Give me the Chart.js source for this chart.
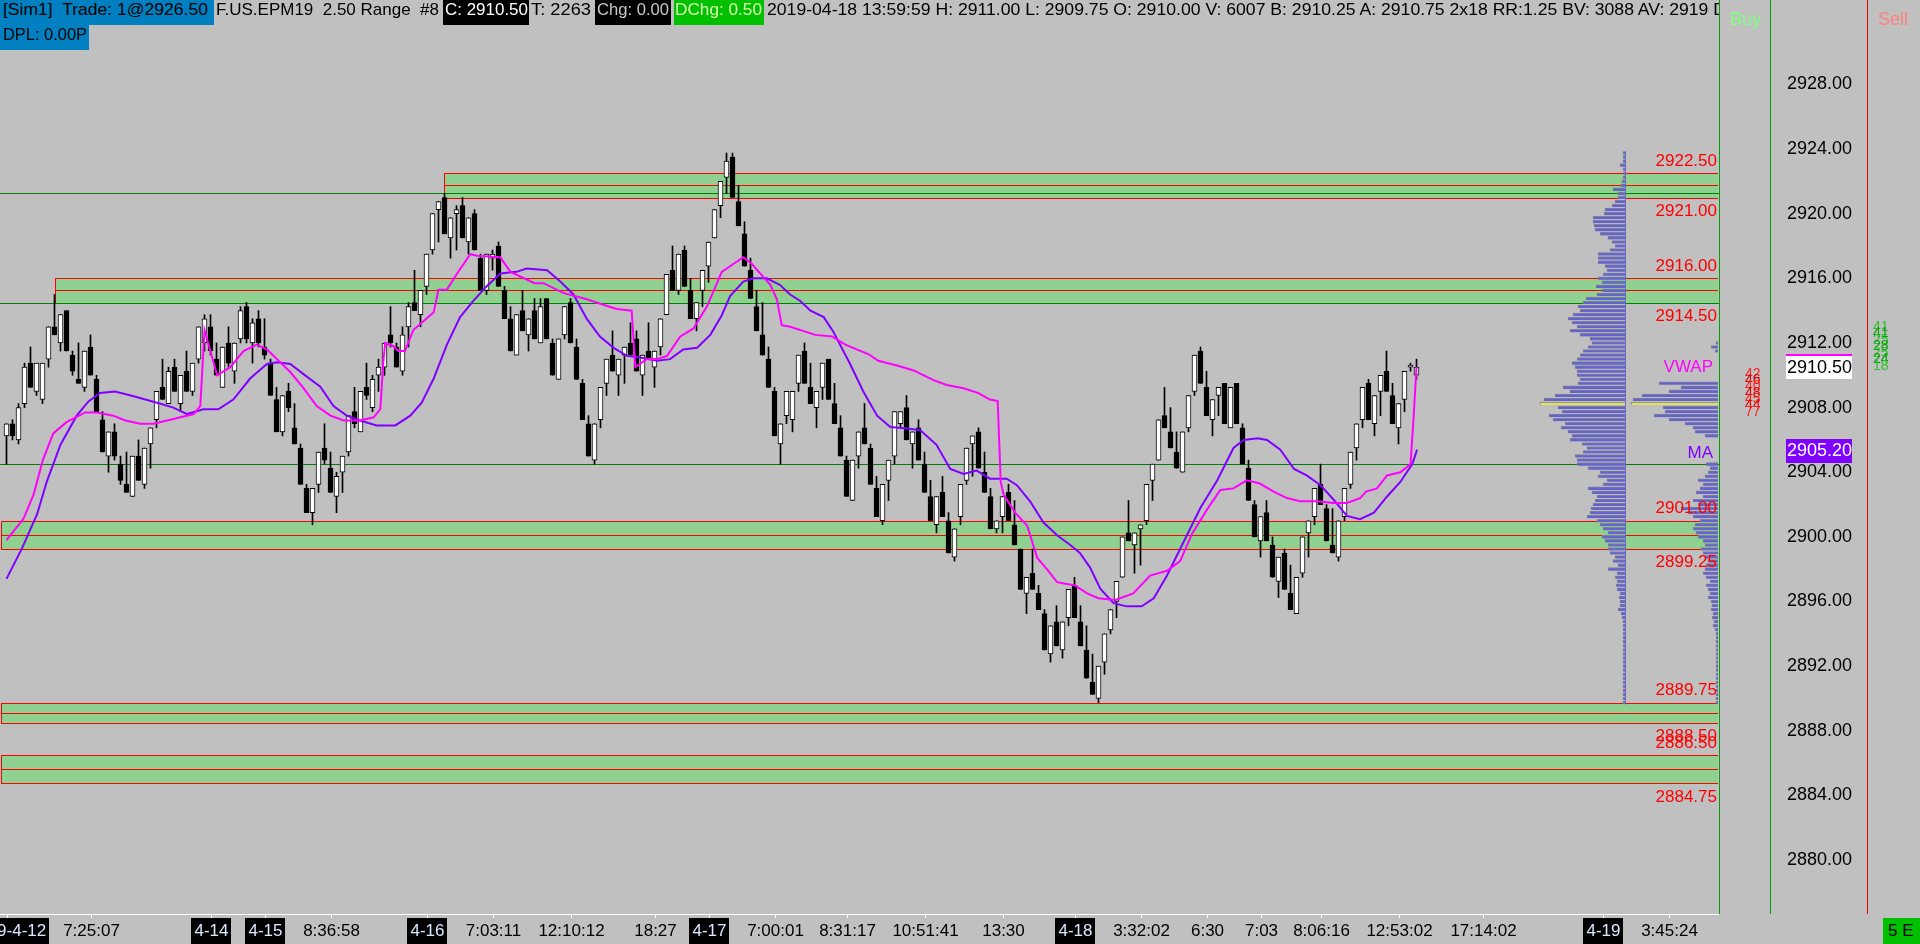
<!DOCTYPE html>
<html>
<head>
<meta charset="utf-8">
<title>F.US.EPM19 2.50 Range</title>
<script src="https://cdn.jsdelivr.net/npm/chart.js"></script>
<style>
html, body { margin: 0; padding: 0; background: #c0c0c0; overflow: hidden; }
#wrap { position: relative; width: 1920px; height: 944px; }
#chart { position: absolute; left: 0; top: 0; }
.hd { position: absolute; top: 0; height: 25px; line-height: 25px; font: 17px "Liberation Sans", Arial, sans-serif; white-space: nowrap; color: #000; overflow: hidden; }
.hd span { display: inline-block; transform-origin: 0 50%; }
</style>
</head>
<body>
<div id="wrap">
<canvas id="chart" width="1920" height="944"></canvas>
<div class="hd" style="left:0;width:214px;background:#0080c0"><span data-w="205" style="margin-left:3px">[Sim1]&nbsp; Trade: 1@2926.50</span></div>
<div class="hd" style="left:216px;width:226px"><span data-w="223">F.US.EPM19&nbsp; 2.50 Range&nbsp; #8</span></div>
<div class="hd" style="left:443px;width:86px;background:#000;color:#fff"><span data-w="83" style="margin-left:2px">C: 2910.50</span></div>
<div class="hd" style="left:531px;width:62px"><span data-w="60">T: 2263</span></div>
<div class="hd" style="left:595px;width:76px;background:#000;color:#c8c8c8"><span data-w="72" style="margin-left:2px">Chg: 0.00</span></div>
<div class="hd" style="left:674px;width:90px;background:#00c000;color:#d8ffb0"><span data-w="87" style="margin-left:1px">DChg: 0.50</span></div>
<div class="hd" style="left:767px;width:952px"><span data-w="959">2019-04-18 13:59:59 H: 2911.00 L: 2909.75 O: 2910.00 V: 6007 B: 2910.25 A: 2910.75 2x18 RR:1.25 BV: 3088 AV: 2919 D</span></div>
<div class="hd" style="left:0;top:25px;width:89px;background:#0080c0"><span data-w="84" style="margin-left:3px">DPL: 0.00P</span></div>
<div class="hd" style="left:1730px;top:9px;font-size:18px;color:#80ff80">Buy</div>
<div class="hd" style="left:1878px;top:9px;font-size:18px;color:#ff8080">Sell</div>
<div class="hd" style="left:1883px;top:918px;width:37px;height:26px;line-height:26px;background:#00c000;padding-left:5px;box-sizing:border-box">5 E</div>
</div>
<script>
// 2.50 range bars, oldest first
const open = [
  2906.25, 2907, 2906, 2908.25, 2910.75, 2909, 2908.5, 2911, 2913, 2912,
  2914, 2911.25, 2909.75, 2909.25, 2911.75, 2909.75, 2907.25, 2905, 2906.5, 2904.5,
  2903.25, 2902.5, 2905, 2903.25, 2905.75, 2907.25, 2909.25, 2908.25, 2910.5, 2908.25,
  2910.25, 2909, 2911, 2912, 2913, 2911, 2909.25, 2912, 2910.25, 2912.25,
  2914.25, 2912, 2913.5, 2911.75, 2910.75, 2908.5, 2906.5, 2909, 2906.75, 2905.5,
  2903, 2901.5, 2903.25, 2905.5, 2904.25, 2902.5, 2904, 2905.25, 2907.75, 2906.5,
  2909.25, 2908, 2910, 2910.5, 2912.5, 2911.75, 2910.25, 2913, 2914.5, 2913.75,
  2915.5, 2917.75, 2920.25, 2921, 2918.5, 2920, 2920.5, 2918.25, 2920, 2917.25,
  2915.25, 2917.25, 2918, 2915.25, 2913.5, 2911.25, 2914, 2912.5, 2914, 2912,
  2914.75, 2912, 2909.75, 2912.5, 2914.5, 2911.75, 2909.5, 2907, 2904.75, 2907.25,
  2909.5, 2911.25, 2910, 2911.25, 2912, 2912.25, 2910, 2911.5, 2910.5, 2911.75,
  2913.75, 2916.5, 2915.25, 2917.75, 2915.25, 2913.5, 2915.25, 2916.75, 2918.5, 2920.5,
  2922.25, 2923.5, 2920.75, 2918.75, 2916.5, 2914.25, 2912.5, 2911, 2909, 2905.75,
  2907.5, 2907.25, 2909.5, 2911.5, 2909.25, 2908, 2909.25, 2911, 2908.25, 2906.75,
  2904.75, 2902.25, 2905, 2906.75, 2905.5, 2903, 2901, 2903.5, 2905, 2907,
  2908, 2905.75, 2906.75, 2904.5, 2902.5, 2900.75, 2902.75, 2901, 2898.75, 2901.25,
  2903.5, 2905.75, 2906.5, 2904, 2902.5, 2900.5, 2901.25, 2902.75, 2900.75, 2899.25,
  2896.5, 2897.75, 2896.5, 2895.25, 2892.75, 2894.75, 2893, 2895, 2897, 2894.75,
  2893, 2891, 2890, 2892.25, 2894.25, 2896, 2897.5, 2900.25, 2899.5, 2900.5,
  2901, 2903.5, 2904.75, 2907.5, 2906.5, 2905.25, 2904, 2906.75, 2909, 2911.5,
  2909.25, 2907.25, 2908.75, 2909.5, 2906.75, 2909.5, 2906.75, 2904.25, 2902, 2899.75,
  2901.5, 2899.5, 2897.25, 2899, 2896.5, 2895.25, 2897.75, 2900.25, 2901.25, 2903.25,
  2901.75, 2899.5, 2898.75, 2901.25, 2903.25, 2905.5, 2907.25, 2909.5, 2907, 2909,
  2910.25, 2908.75, 2906.75, 2908.5, 2910.5, 2910
];
const high = [
  2907, 2907.25, 2908.25, 2910.75, 2911.75, 2910.75, 2910.75, 2913, 2915, 2913.75,
  2914, 2911.5, 2912, 2911.5, 2912.5, 2910, 2907.75, 2906.5, 2907, 2905,
  2905.25, 2905, 2906, 2905.5, 2906.75, 2909, 2911, 2910.5, 2911, 2910,
  2911.5, 2910.75, 2913, 2913.75, 2913.75, 2912, 2911.75, 2913, 2912, 2914.25,
  2914.5, 2913.5, 2914, 2913.5, 2911, 2909.25, 2908.75, 2909.5, 2908.25, 2905.75,
  2903.25, 2903, 2905.25, 2907, 2905.25, 2904, 2905, 2907.5, 2909.25, 2909,
  2910.75, 2910, 2911, 2912, 2914.25, 2912, 2913, 2914.5, 2916.5, 2915.25,
  2917.5, 2920, 2920.75, 2921.25, 2919.75, 2920.5, 2921, 2919.75, 2920.25, 2917.5,
  2917.5, 2917.75, 2918.25, 2915.5, 2914.25, 2913.75, 2915.25, 2913.5, 2914.75, 2914.75,
  2914.75, 2912.25, 2912.25, 2914.25, 2914.75, 2912.25, 2909.75, 2907.5, 2907, 2909.25,
  2911, 2912.75, 2911, 2911.75, 2913.25, 2912.75, 2911.25, 2913.25, 2911.5, 2913.5,
  2916.25, 2918, 2917.5, 2918, 2916, 2914.5, 2916.5, 2918.25, 2920.25, 2922,
  2923.75, 2923.75, 2921.75, 2919.5, 2917.25, 2915.25, 2914.5, 2911.75, 2909.25, 2907,
  2909, 2909, 2911.25, 2912, 2910.75, 2909, 2910.75, 2911, 2909.5, 2907.5,
  2905, 2904.75, 2906.5, 2908.25, 2905.75, 2903.75, 2903.25, 2904.75, 2907.75, 2907.75,
  2908.75, 2906.5, 2907.25, 2905.25, 2903.5, 2902.5, 2903.75, 2901.5, 2900.5, 2903.25,
  2905.5, 2906.25, 2906.75, 2905.25, 2903, 2901, 2902.5, 2903.25, 2902.25, 2899.25,
  2897.5, 2899.25, 2897, 2895.5, 2894.5, 2895.75, 2894.75, 2896.75, 2897.5, 2895.75,
  2894.5, 2892.75, 2892, 2894, 2895.5, 2897.25, 2900, 2902.25, 2900.25, 2900.75,
  2903.25, 2904.5, 2907.25, 2909.25, 2908, 2906.5, 2906.5, 2908.75, 2911.25, 2911.75,
  2910.25, 2908.5, 2909.25, 2909.5, 2909.25, 2909.5, 2907, 2904.75, 2902.25, 2901.25,
  2902.25, 2900, 2898.75, 2899.25, 2898.25, 2897.5, 2900, 2901, 2903, 2904.5,
  2902, 2901.75, 2901, 2903, 2905.25, 2907, 2909.25, 2909.75, 2908.75, 2910,
  2911.5, 2909.5, 2908.25, 2910.25, 2910.75, 2911
];
const low = [
  2904.5, 2906, 2905.75, 2908, 2909.25, 2908.75, 2908.25, 2910.5, 2912.5, 2911.5,
  2911.5, 2910, 2909.5, 2909, 2910, 2907.75, 2905.25, 2904, 2904.75, 2903.25,
  2902.75, 2902.5, 2903.5, 2903, 2904.25, 2906.75, 2908.5, 2908.25, 2909, 2907.75,
  2909, 2908.75, 2910.75, 2911.5, 2911.25, 2910, 2909.25, 2910.5, 2909.5, 2912,
  2912, 2910.75, 2911.75, 2911, 2908.75, 2906.5, 2906.25, 2907.75, 2905.75, 2903.25,
  2901.5, 2900.75, 2902.75, 2904.5, 2902.75, 2901.5, 2902.75, 2905, 2906.75, 2906.5,
  2908.5, 2907.75, 2909, 2910, 2911.75, 2910.5, 2910, 2911.75, 2914, 2913,
  2915, 2917.5, 2918.25, 2918.75, 2917.25, 2917.75, 2918.5, 2917.5, 2917.75, 2915.25,
  2915, 2916.5, 2915.5, 2913.5, 2911.5, 2911.25, 2912.75, 2911.5, 2912.25, 2912,
  2912.25, 2910, 2909.75, 2912.25, 2912, 2909.75, 2907.25, 2905, 2904.5, 2906.75,
  2908.75, 2910.25, 2908.75, 2909.5, 2911.25, 2910.25, 2908.75, 2911, 2909.25, 2911.25,
  2913.75, 2915.25, 2915, 2915.5, 2913.5, 2912.75, 2914.25, 2915.75, 2918.5, 2919.75,
  2921.25, 2921, 2919.25, 2916.75, 2914.75, 2912.75, 2911.25, 2909.25, 2906.25, 2904.5,
  2907, 2906.5, 2909, 2909.5, 2908.25, 2906.75, 2908.5, 2908.5, 2907, 2905,
  2902.5, 2902.25, 2904.25, 2905.75, 2903.25, 2901.25, 2900.75, 2902.25, 2904.5, 2906.75,
  2906, 2904.25, 2904.75, 2902.75, 2901, 2900.25, 2901.25, 2899, 2898.5, 2900.75,
  2903.25, 2903.75, 2904.25, 2902.75, 2900.5, 2900.25, 2900.25, 2901, 2899.5, 2896.75,
  2895.25, 2896.75, 2895.5, 2893, 2892.25, 2893.25, 2892.5, 2894.5, 2895, 2893.25,
  2891.25, 2890.25, 2889.75, 2891.5, 2894, 2895, 2897.5, 2899.75, 2897.75, 2898.25,
  2900.75, 2902.25, 2904.75, 2906.75, 2905.5, 2904.25, 2904, 2906.5, 2908.75, 2909.5,
  2907.5, 2906.25, 2907.5, 2907, 2906.75, 2907, 2904.5, 2902.25, 2900, 2898.75,
  2899.75, 2897.5, 2896.25, 2896.75, 2895.5, 2895.25, 2897.5, 2898.75, 2900.75, 2902,
  2899.75, 2899, 2898.5, 2901, 2903, 2904.75, 2906.75, 2907.25, 2906.25, 2907.5,
  2909, 2907, 2905.75, 2907.75, 2910.25, 2909.75
];
const close = [
  2907, 2906.25, 2908, 2910.5, 2909.25, 2910.75, 2910.75, 2913, 2912.5, 2913.75,
  2911.5, 2910.25, 2909.5, 2911.5, 2910, 2907.75, 2905.25, 2906.5, 2905, 2903.5,
  2902.75, 2905, 2903.5, 2905.5, 2906.75, 2909, 2908.5, 2910.25, 2909, 2910,
  2909, 2910.75, 2913, 2913.5, 2911.5, 2910, 2911.75, 2910.75, 2912, 2914,
  2912.25, 2913.25, 2912, 2911.25, 2908.75, 2906.5, 2908.75, 2908, 2905.75, 2903.25,
  2901.5, 2903, 2905.25, 2904.75, 2902.75, 2903.75, 2905, 2907.5, 2907, 2909,
  2908.75, 2909.75, 2910.5, 2912, 2912, 2910.5, 2912.5, 2914.25, 2914, 2915.25,
  2917.5, 2920, 2920.75, 2918.75, 2919.75, 2920.25, 2918.5, 2919.75, 2917.75, 2915.25,
  2917.5, 2917.5, 2915.5, 2913.5, 2911.5, 2913.75, 2912.75, 2913.5, 2912.25, 2914.25,
  2912.25, 2910, 2912.25, 2914.25, 2912, 2909.75, 2907.25, 2905, 2907, 2909.25,
  2911, 2910.25, 2911, 2911.75, 2911.25, 2910.25, 2911.25, 2911, 2911.5, 2913.5,
  2916.25, 2915.25, 2917.5, 2915.5, 2913.5, 2914.5, 2916.5, 2918.25, 2920.25, 2922,
  2923.25, 2921, 2919.25, 2916.75, 2914.75, 2912.75, 2911.25, 2909.25, 2906.25, 2907,
  2909, 2909, 2911.25, 2909.5, 2908.25, 2909, 2910.75, 2908.5, 2907, 2905,
  2902.5, 2904.75, 2906.5, 2905.75, 2903.25, 2901.25, 2903.25, 2904.75, 2907.75, 2907.75,
  2906, 2906.5, 2904.75, 2902.75, 2901, 2902.5, 2901.25, 2899, 2900.5, 2903.25,
  2905.5, 2906.25, 2904.25, 2902.75, 2900.5, 2901, 2902.5, 2901, 2899.5, 2896.75,
  2897.5, 2896.75, 2895.5, 2893, 2894.5, 2893.25, 2894.75, 2896.75, 2895, 2893.25,
  2891.25, 2890.25, 2892, 2894, 2895.5, 2897.25, 2900, 2899.75, 2900.25, 2900.75,
  2903.25, 2904.5, 2907.25, 2906.75, 2905.5, 2904.25, 2906.5, 2908.75, 2911.25, 2909.5,
  2907.5, 2908.5, 2909.25, 2907, 2909.25, 2907, 2904.5, 2902.25, 2900, 2901.25,
  2899.75, 2897.5, 2898.75, 2896.75, 2895.5, 2897.5, 2900, 2901, 2903, 2902,
  2899.75, 2899, 2901, 2903, 2905.25, 2907, 2909.25, 2907.25, 2908.75, 2910,
  2909, 2907, 2908.25, 2910.25, 2910.5, 2910.5
];

// VWAP (magenta) and moving average (purple), [bar index, price]
const vwapPts = [
  [0, 2899.8], [2.8, 2901.1], [4.5, 2902.6], [6.1, 2904.8], [7.8, 2906.4], [10, 2907.1], [13.1, 2907.7],
  [15.1, 2907.7], [17.8, 2907.5], [19.8, 2907.2], [22.3, 2907.0], [24.5, 2907.0], [27.8, 2907.3],
  [31.2, 2907.6], [32.3, 2908.1], [33, 2912.8], [35.1, 2910.0], [37.3, 2910.5], [39.5, 2911.5],
  [41.7, 2911.9], [43.4, 2911.6], [45.1, 2911.0], [47.3, 2910.2], [49.5, 2909.2], [51.7, 2908.1],
  [54, 2907.5], [56.2, 2907.2], [58.9, 2907.2], [61.2, 2907.4], [62.3, 2907.9], [62.8, 2910.8],
  [63.1, 2912.0], [64.5, 2911.8], [65.3, 2911.5], [66.4, 2911.5], [67.8, 2912.8], [71.2, 2913.9],
  [72, 2915.3], [73.4, 2915.3], [75.1, 2916.3], [77.3, 2917.5], [78.4, 2917.4], [82.3, 2917.3],
  [84, 2916.4], [88, 2915.7], [89.5, 2915.7], [92.8, 2915.1], [96.7, 2914.7], [100, 2914.3],
  [101.7, 2914.1], [104.2, 2914.0], [104.8, 2910.5], [106.7, 2911.0], [108.4, 2911.0], [110.1, 2911.2],
  [112.3, 2912.4], [114.5, 2912.9], [116.8, 2914.3], [119.2, 2916.4], [121.2, 2916.9], [122.8, 2917.3],
  [124.2, 2916.9], [126.1, 2916.1], [127.3, 2915.6], [128.4, 2914.7], [129.2, 2913.1], [130.6, 2913.0],
  [134.8, 2912.5], [137.6, 2912.4], [139.8, 2911.9], [143.7, 2911.3], [145.3, 2910.9], [148.4, 2910.6],
  [151.2, 2910.3], [154.5, 2909.7], [156.7, 2909.4], [159.5, 2909.2], [162, 2908.9], [163.9, 2908.5],
  [165.2, 2908.4], [165.7, 2903.4], [166.2, 2902.6], [168.1, 2901.5], [170.1, 2900.7], [171.8, 2898.7],
  [173.4, 2898.0], [175.1, 2897.2], [176.5, 2897.1], [178.1, 2897.0], [180.1, 2896.5], [182, 2896.2],
  [184.8, 2896.1], [187.8, 2896.5], [190.6, 2897.6], [193.4, 2897.9], [195.6, 2898.5], [197.6, 2900.2],
  [200.1, 2901.7], [202.3, 2902.9], [204.5, 2903.0], [206.7, 2903.5], [208.9, 2903.3], [211.2, 2902.8],
  [213.4, 2902.4], [215.6, 2902.2], [218.4, 2902.2], [221.2, 2902.1], [223.4, 2902.1], [225.6, 2902.4],
  [226.6, 2902.8], [228.4, 2903.0], [230.1, 2903.8], [232.3, 2904.0], [234, 2904.5], [234.5, 2907.3],
  [235, 2910.5]
];
const maPts = [
  [0, 2897.4], [2.6, 2899.3], [5.1, 2901.4], [6.7, 2903.4], [9, 2905.7], [11.7, 2907.5], [13.7, 2908.4],
  [15.6, 2908.9], [18.1, 2909.0], [21.2, 2908.7], [25.1, 2908.3], [27.8, 2908.0], [30.1, 2907.6],
  [32.8, 2907.9], [35.3, 2907.9], [37.8, 2908.5], [40.6, 2909.8], [43.4, 2910.7], [45.1, 2910.8],
  [47.3, 2910.7], [50.1, 2909.9], [52.3, 2909.3], [54.5, 2908.1], [56.7, 2907.5], [58.9, 2907.2],
  [61.7, 2906.9], [64.8, 2906.9], [67.3, 2907.5], [69.2, 2908.3], [71.2, 2909.8], [73.4, 2911.9],
  [75.6, 2913.6], [77.8, 2914.6], [80, 2915.5], [82.3, 2916.3], [85, 2916.4], [86.7, 2916.6],
  [90.1, 2916.5], [92.3, 2915.8], [94.5, 2915.0], [96.7, 2913.5], [98.9, 2912.4], [101.2, 2911.7],
  [103.4, 2911.2], [105.6, 2911.1], [108.4, 2910.9], [110.6, 2911.0], [112.8, 2911.6], [115.1, 2911.7],
  [117.3, 2912.5], [119.2, 2913.7], [120.6, 2914.9], [122.8, 2915.8], [124.5, 2916.0], [126.7, 2916.0],
  [128.9, 2915.6], [130.6, 2915.0], [132.3, 2914.6], [134, 2914.0], [136.2, 2913.6], [137.8, 2912.7],
  [140.6, 2910.7], [142.8, 2909.0], [145.1, 2907.5], [147.3, 2906.8], [150.1, 2906.7], [152.3, 2906.6],
  [155, 2905.7], [157.3, 2904.2], [159.5, 2903.9], [161.7, 2904.1], [163.9, 2903.6], [166.7, 2903.6],
  [168.4, 2903.2], [170.6, 2902.2], [172.8, 2900.9], [175.1, 2900.1], [177.3, 2899.5], [178.9, 2899.0],
  [180.6, 2898.1], [182.3, 2896.8], [184.5, 2895.9], [186.7, 2895.7], [189.2, 2895.7], [191.2, 2896.2],
  [193.4, 2897.6], [196.2, 2899.7], [199, 2901.8], [201.8, 2903.5], [204.5, 2905.5], [206.2, 2906.0],
  [208.5, 2906.1], [210.1, 2906.0], [212.3, 2905.4], [214.6, 2904.2], [216.7, 2903.8], [219, 2903.2],
  [221.2, 2902.3], [223.4, 2901.3], [225.6, 2901.1], [227.9, 2901.5], [230.1, 2902.5], [232.3, 2903.4],
  [234.3, 2904.5], [235.1, 2905.4]
];
const lastPrice = 2910.5;
const lastVwap = 2910.5;
const lastMa = 2905.2;

// price axis
const yTicks = [2880, 2884, 2888, 2892, 2896, 2900, 2904, 2908, 2912, 2916, 2920, 2924, 2928];

// time axis (bar index of each label)
const xTickIdx = [0, 14, 34, 43, 54, 70, 81, 94, 108, 117, 128, 140, 153, 166, 178, 189, 200, 209, 219, 232, 246, 266, 277];
const xTickText = ['2019-4-12', '7:25:07', '4-14', '4-15', '8:36:58', '4-16', '7:03:11', '12:10:12', '18:27', '4-17',
  '7:00:01', '8:31:17', '10:51:41', '13:30', '4-18', '3:32:02', '6:30', '7:03', '8:06:16', '12:53:02', '17:14:02', '4-19', '3:45:24'];
const xTickDate = [1, 0, 1, 1, 0, 1, 0, 0, 0, 1, 0, 0, 0, 0, 1, 0, 0, 0, 0, 0, 0, 1, 0];

// supply / demand zones
const zoneHi = [2922.5, 2916.0, 2901.0, 2889.75, 2886.5];
const zoneLo = [2921.0, 2914.5, 2899.25, 2888.5, 2884.75];
const zoneFrom = [73, 8, null, null, null];
const levelLines = [2921.25, 2914.5, 2904.5];

// volume profiles, one value per 0.25 tick from the top price down
const profTopL = 2923.75;
const profL = [
  2, 2, 2, 5, 2, 2, 2, 3,
  4, 12, 7, 7, 10, 13, 20, 21,
  32, 32, 31, 30, 25, 17, 13, 10,
  15, 27, 27, 27, 20, 18, 22, 27,
  23, 29, 23, 28, 39, 42, 47, 45,
  52, 57, 53, 48, 55, 45, 35, 33,
  37, 42, 45, 48, 53, 50, 48, 48,
  45, 47, 62, 55, 70, 81, 85, 67,
  63, 76, 72, 60, 64, 57, 53, 55,
  43, 38, 42, 50, 48, 48, 37, 25,
  27, 18, 22, 37, 33, 28, 30, 32,
  34, 35, 38, 28, 25, 22, 17, 23,
  20, 17, 17, 15, 10, 12, 7, 17,
  8, 10, 8, 9, 8, 5, 6, 5,
  5, 7, 4, 3, 2, 2, 2, 2,
  2, 2, 2, 2, 2, 2, 2, 2,
  2, 2, 2, 2, 2, 2, 2, 2,
  2
];
const profTopR = 2912.0;
const profR = [
  2, 7, 3, 0, 0, 0, 0, 0,
  0, 0, 59, 37, 49, 76, 85, 87,
  55, 53, 64, 49, 33, 25, 23, 13,
  0, 0, 0, 0, 0, 0, 12, 8,
  10, 13, 20, 15, 18, 22, 15, 25,
  20, 37, 30, 25, 18, 23, 25, 22,
  20, 15, 13, 17, 15, 13, 10, 12,
  13, 15, 12, 8, 12, 10, 8, 10,
  7, 6, 7, 5, 6, 4, 5, 3,
  2, 2, 2, 2, 2, 2, 2, 2,
  2, 2, 2, 2, 2, 2, 2, 2,
  2, 2
];
const poc = 2908.25;

const sideRed = ['42', '46', '40', '48', '45', '44', '77'];
const sideGreen = ['41', '41', '25', '28', '25', '24', '18'];

const FONT = '"Liberation Sans", Arial, sans-serif';
Chart.defaults.font.family = FONT;
Chart.defaults.color = '#000';

const decor = {
  id: 'decor',
  beforeDatasetsDraw(chart) {
    const {ctx, chartArea: a, scales: {x, y, vpL}} = chart;
    ctx.save();
    zoneHi.forEach((hi, k) => {
      const lo = zoneLo[k];
      const x0 = zoneFrom[k] === null ? a.left + 1 : Math.round(x.getPixelForValue(zoneFrom[k]));
      const x1 = a.right - 1;
      const yt = Math.round(y.getPixelForValue(hi));
      const yb = Math.round(y.getPixelForValue(lo));
      const ym = Math.round(y.getPixelForValue((hi + lo) / 2));
      ctx.fillStyle = 'rgb(144,208,144)';
      ctx.fillRect(x0, yt, x1 - x0, yb - yt);
      ctx.fillStyle = '#ff0000';
      [yt, ym, yb].forEach(v => ctx.fillRect(x0, v, x1 - x0, 1));
      ctx.fillRect(x0, yt, 1, yb - yt + 1);
    });
    ctx.fillStyle = '#008000';
    levelLines.forEach(p => ctx.fillRect(a.left, Math.round(y.getPixelForValue(p)), a.right - a.left, 1));
    // profile spine
    const px = Math.round(vpL.getPixelForValue(0));
    ctx.fillStyle = '#6a6ac8';
    const yTop = y.getPixelForValue(profTopL) - 2;
    const yBot = y.getPixelForValue(profTopL - (profL.length - 1) * 0.25) + 2;
    ctx.fillRect(px, yTop, 1, yBot - yTop);
    ctx.restore();
  },
  afterDraw(chart) {
    const {ctx, chartArea: a, scales: {x, y}} = chart;
    ctx.save();
    ctx.textBaseline = 'middle';
    // zone price labels
    ctx.font = '17px ' + FONT;
    ctx.textAlign = 'right';
    ctx.fillStyle = '#ff0000';
    zoneHi.forEach((hi, k) => {
      ctx.fillText(hi.toFixed(2), a.right - 2, y.getPixelForValue(hi) - 12);
      ctx.fillText(zoneLo[k].toFixed(2), a.right - 2, y.getPixelForValue(zoneLo[k]) + 13.5);
    });
    ctx.fillStyle = '#ff00ff';
    ctx.fillText('VWAP', a.right - 6, y.getPixelForValue(lastVwap));
    ctx.fillStyle = '#8000ff';
    ctx.fillText('MA', a.right - 6, y.getPixelForValue(lastMa));

    // separators
    ctx.fillStyle = '#00a000';
    ctx.fillRect(a.right, 0, 1, a.bottom);
    ctx.fillRect(1770, 0, 1, a.bottom);
    ctx.fillStyle = '#e00000';
    ctx.fillRect(1867, 0, 1, a.bottom);

    // last price / MA boxes
    ctx.font = '18px ' + FONT;
    ctx.textAlign = 'left';
    const yp = Math.round(y.getPixelForValue(lastPrice));
    ctx.fillStyle = '#fff';
    ctx.fillRect(1786, yp - 11, 66, 23);
    ctx.fillStyle = '#ff00ff';
    ctx.fillRect(1786, yp - 13, 66, 2);
    ctx.fillStyle = '#000';
    ctx.fillText(lastPrice.toFixed(2), 1787, yp + 1);
    const ym = Math.round(y.getPixelForValue(lastMa));
    ctx.fillStyle = '#8000ff';
    ctx.fillRect(1786, ym - 14, 66, 24);
    ctx.fillStyle = '#fff';
    ctx.fillText(lastMa.toFixed(2), 1787, ym - 2);

    // order flow counts
    ctx.font = '14px ' + FONT;
    sideRed.forEach((t, k) => {
      ctx.fillStyle = k % 2 ? '#e00000' : '#ff2020';
      ctx.fillText(t, 1745, 374 + k * 6.3);
    });
    sideGreen.forEach((t, k) => {
      ctx.fillStyle = k % 2 ? '#00a000' : '#30c030';
      ctx.fillText(t, 1873, 327 + k * 6.5);
    });

    // time axis
    ctx.fillStyle = '#fff';
    ctx.fillRect(a.left, a.bottom, a.right - a.left, 1);
    ctx.font = '17px ' + FONT;
    ctx.textAlign = 'center';
    xTickIdx.forEach((v, k) => {
      const px = Math.round(x.getPixelForValue(v));
      ctx.fillStyle = '#fff';
      ctx.fillRect(px, a.bottom + 1, 1, 3);
      const t = xTickText[k];
      if (xTickDate[k]) {
        const w = ctx.measureText(t).width;
        ctx.fillStyle = '#000';
        ctx.fillRect(Math.round(px - w / 2 - 3), 918, Math.round(w + 6), 26);
        ctx.fillStyle = '#dce8ff';
      } else {
        ctx.fillStyle = '#000';
      }
      ctx.fillText(t, px + 0.5, 931);
    });
    ctx.restore();
  }
};

const bodies = open.map((o, i) => ({x: i, y: [o, close[i]]}));
const wicks = open.map((o, i) => ({x: i, y: [low[i], high[i]]}));
const profColor = (top, ctx) => Math.abs(top - ctx.dataIndex * 0.25 - poc) < 0.01 ? 'rgb(224,224,96)' : 'rgb(100,100,204)';

new Chart(document.getElementById('chart'), {
  type: 'bar',
  data: {
    datasets: [
      {
        type: 'line', label: 'VWAP', order: 1,
        data: vwapPts.map(p => ({x: p[0], y: p[1]})),
        borderColor: '#ff00ff', borderWidth: 2, pointRadius: 0, tension: 0
      },
      {
        type: 'line', label: 'MA', order: 2,
        data: maPts.map(p => ({x: p[0], y: p[1]})),
        borderColor: '#8000ff', borderWidth: 2, pointRadius: 0, tension: 0
      },
      {
        label: 'body', order: 3, data: bodies,
        backgroundColor: ctx => close[ctx.dataIndex] >= open[ctx.dataIndex] ? '#ffffff' : '#000000',
        borderColor: '#000', borderWidth: 1, borderSkipped: false,
        barThickness: 5, grouped: false, minBarLength: 2
      },
      {
        label: 'wick', order: 4, data: wicks,
        backgroundColor: '#000', barThickness: 1, grouped: false
      },
      {
        label: 'profile', order: 5, indexAxis: 'y', xAxisID: 'vpL', yAxisID: 'y',
        data: profL.map((v, k) => ({x: v, y: profTopL - k * 0.25})),
        backgroundColor: ctx => profColor(profTopL, ctx),
        borderColor: 'rgb(128,128,150)', borderWidth: {top: 1, left: 1, right: 0, bottom: 0}, borderSkipped: false,
        barThickness: 3, grouped: false
      },
      {
        label: 'session profile', order: 6, indexAxis: 'y', xAxisID: 'vpR', yAxisID: 'y',
        data: profR.map((v, k) => ({x: v, y: profTopR - k * 0.25})),
        backgroundColor: ctx => profColor(profTopR, ctx),
        borderColor: 'rgb(128,128,150)', borderWidth: {top: 1, left: 1, right: 0, bottom: 0}, borderSkipped: false,
        barThickness: 3, grouped: false
      }
    ]
  },
  options: {
    responsive: false,
    animation: false,
    devicePixelRatio: 1,
    events: [],
    layout: {padding: {left: 0, top: 0, right: 0, bottom: 30}},
    plugins: {legend: {display: false}, tooltip: {enabled: false}},
    scales: {
      x: {
        type: 'linear', position: 'bottom', display: false, offset: false,
        min: -6.5 / 6, max: -6.5 / 6 + 1719 / 6
      },
      y: {
        type: 'linear', position: 'right', offset: false, beginAtZero: false,
        min: 2928 - 829.6 / 16.16, max: 2928 + 84.4 / 16.16,
        grid: {display: false, drawTicks: false},
        border: {display: false},
        ticks: {color: '#000', font: {size: 18}, padding: 68, callback: v => v.toFixed(2)},
        afterBuildTicks: s => { s.ticks = yTicks.map(v => ({value: v})); },
        afterFit: s => { s.width = 201; s.paddingTop = 0; s.paddingBottom = 0; }
      },
      vpL: {type: 'linear', axis: 'x', position: 'bottom', display: false, offset: false, reverse: true, min: -94, max: 1625},
      vpR: {type: 'linear', axis: 'x', position: 'bottom', display: false, offset: false, reverse: true, min: -1, max: 1718}
    }
  },
  plugins: [decor]
});

document.querySelectorAll('[data-w]').forEach(el => {
  const w = el.getBoundingClientRect().width;
  if (w > 0) el.style.transform = 'scaleX(' + (el.dataset.w / w) + ')';
});
</script>
</body>
</html>
